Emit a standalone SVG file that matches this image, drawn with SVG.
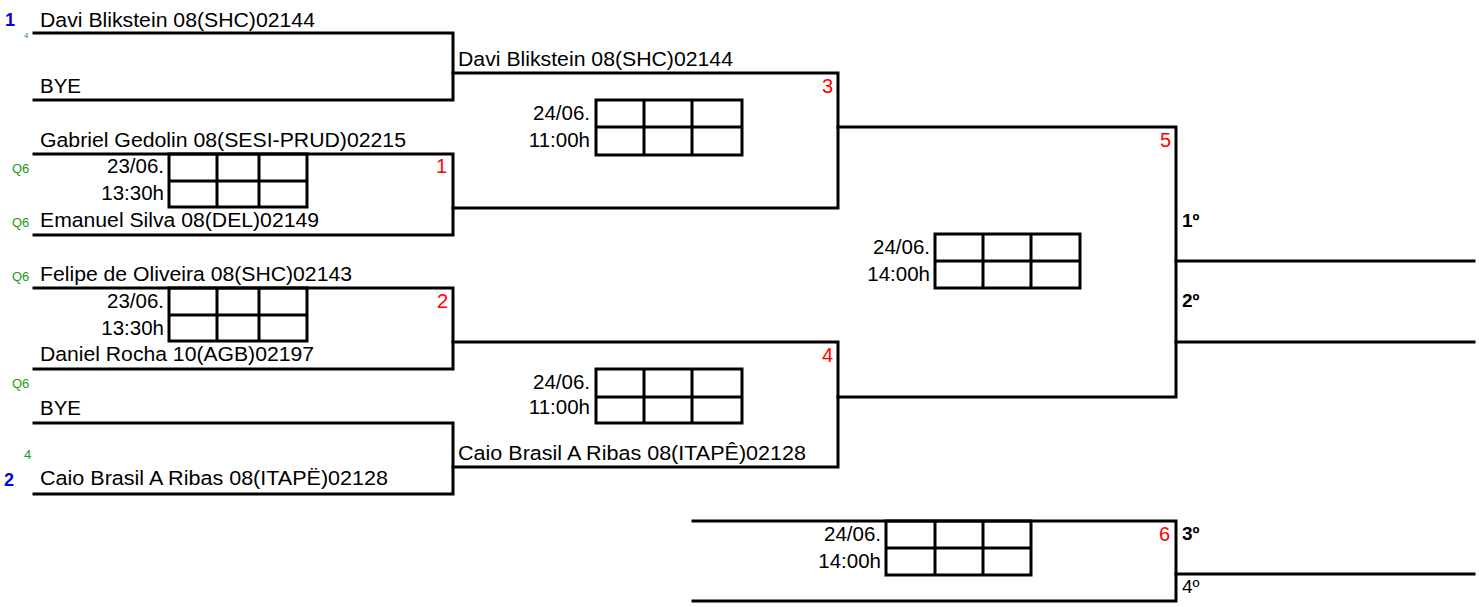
<svg xmlns="http://www.w3.org/2000/svg" width="1479" height="607" viewBox="0 0 1479 607">
<style>
.ln{stroke:#000;stroke-width:3;fill:none;stroke-linecap:square}
.bx{stroke:#000;stroke-width:3;fill:none}
.nm{font-family:"Liberation Sans",Arial,sans-serif;font-size:20.5px;fill:#000}
.dt{font-family:"Liberation Sans",Arial,sans-serif;font-size:20.5px;fill:#000;text-anchor:end}
.rd{font-family:"Liberation Sans",Arial,sans-serif;font-size:20px;fill:#ff0000;text-anchor:end}
.gr{font-family:"Liberation Sans",Arial,sans-serif;font-size:13px;fill:#1a9a1a}
.bl{font-family:"Liberation Sans",Arial,sans-serif;font-size:18px;font-weight:bold;fill:#0000ee}
.pl{font-family:"Liberation Sans",Arial,sans-serif;font-size:19px;fill:#000}
.plb{font-weight:bold}
</style>
<rect width="1479" height="607" fill="#fff"/>
<g id="connectors">
  <path class="ln" d="M34,33 H453 V100 H34"/>
  <path class="ln" d="M34,154 H453 V235 H34"/>
  <path class="ln" d="M34,288 H453 V369 H34"/>
  <path class="ln" d="M34,423 H453 V494 H34"/>
  <path class="ln" d="M453,73 H838 V208 H453"/>
  <path class="ln" d="M453,342 H838 V467 H453"/>
  <path class="ln" d="M838,127 H1176 V397 H838"/>
  <path class="ln" d="M1176,261 H1474"/>
  <path class="ln" d="M1176,342 H1474"/>
  <path class="ln" d="M693,521 H1176 V601 H693"/>
  <path class="ln" d="M1176,574 H1474"/>
</g>
<g id="seed1">
  <text class="bl" x="5" y="26">1</text>
  <text class="gr" x="24" y="38" style="font-size:8px">4</text>
  <text class="nm" x="40" y="27" textLength="275" lengthAdjust="spacingAndGlyphs">Davi Blikstein 08(SHC)02144</text>
  <text class="nm" x="40" y="93">BYE</text>
</g>
<g id="match1">
  <text class="gr" x="12" y="173">Q6</text>
  <text class="gr" x="12" y="227">Q6</text>
  <text class="nm" x="40" y="147" textLength="366" lengthAdjust="spacingAndGlyphs">Gabriel Gedolin 08(SESI-PRUD)02215</text>
  <text class="nm" x="40" y="227" textLength="279" lengthAdjust="spacingAndGlyphs">Emanuel Silva 08(DEL)02149</text>
  <text class="dt" x="164" y="173">23/06.</text>
  <text class="dt" x="164" y="200">13:30h</text>
  <path class="bx" d="M169,154 H307 V207 H169 Z M169,181 H307 M217,154 V207 M259,154 V207"/>
  <text class="rd" x="447" y="173">1</text>
</g>
<g id="match2">
  <text class="gr" x="12" y="281">Q6</text>
  <text class="nm" x="40" y="281" textLength="312" lengthAdjust="spacingAndGlyphs">Felipe de Oliveira 08(SHC)02143</text>
  <text class="nm" x="40" y="361" textLength="274" lengthAdjust="spacingAndGlyphs">Daniel Rocha 10(AGB)02197</text>
  <text class="dt" x="164" y="308">23/06.</text>
  <text class="dt" x="164" y="335">13:30h</text>
  <path class="bx" d="M169,288 H307 V341 H169 Z M169,315 H307 M217,288 V341 M259,288 V341"/>
  <text class="rd" x="448" y="308">2</text>
</g>
<g id="seed2">
  <text class="gr" x="12" y="388">Q6</text>
  <text class="nm" x="40" y="415">BYE</text>
  <text class="gr" x="24" y="459">4</text>
  <text class="bl" x="4" y="486">2</text>
  <text class="nm" x="40" y="485" textLength="348" lengthAdjust="spacingAndGlyphs">Caio Brasil A Ribas 08(ITAPË)02128</text>
</g>
<g id="match3">
  <text class="nm" x="458" y="66" textLength="275" lengthAdjust="spacingAndGlyphs">Davi Blikstein 08(SHC)02144</text>
  <text class="rd" x="833" y="93">3</text>
  <text class="dt" x="590" y="120">24/06.</text>
  <text class="dt" x="590" y="147">11:00h</text>
  <path class="bx" d="M596,100 H742 V155 H596 Z M596,127 H742 M644,100 V155 M692,100 V155"/>
</g>
<g id="match4">
  <text class="rd" x="833" y="362">4</text>
  <text class="dt" x="590" y="389">24/06.</text>
  <text class="dt" x="590" y="414">11:00h</text>
  <path class="bx" d="M596,369 H742 V423 H596 Z M596,397 H742 M644,369 V423 M692,369 V423"/>
  <text class="nm" x="458" y="460" textLength="348" lengthAdjust="spacingAndGlyphs">Caio Brasil A Ribas 08(ITAPÊ)02128</text>
</g>
<g id="match5">
  <text class="rd" x="1171" y="147">5</text>
  <text class="dt" x="930" y="254">24/06.</text>
  <text class="dt" x="930" y="281">14:00h</text>
  <path class="bx" d="M935,234 H1080 V288 H935 Z M935,261 H1080 M983,234 V288 M1031,234 V288"/>
  <text class="pl plb" x="1182" y="227">1º</text>
  <text class="pl plb" x="1182" y="307">2º</text>
</g>
<g id="match6">
  <text class="rd" x="1170" y="541">6</text>
  <text class="dt" x="881" y="541">24/06.</text>
  <text class="dt" x="881" y="568">14:00h</text>
  <path class="bx" d="M886,521 H1031 V575 H886 Z M886,548 H1031 M935,521 V575 M983,521 V575"/>
  <text class="pl plb" x="1182" y="540">3º</text>
  <text class="pl" x="1182" y="593">4º</text>
</g>
</svg>
